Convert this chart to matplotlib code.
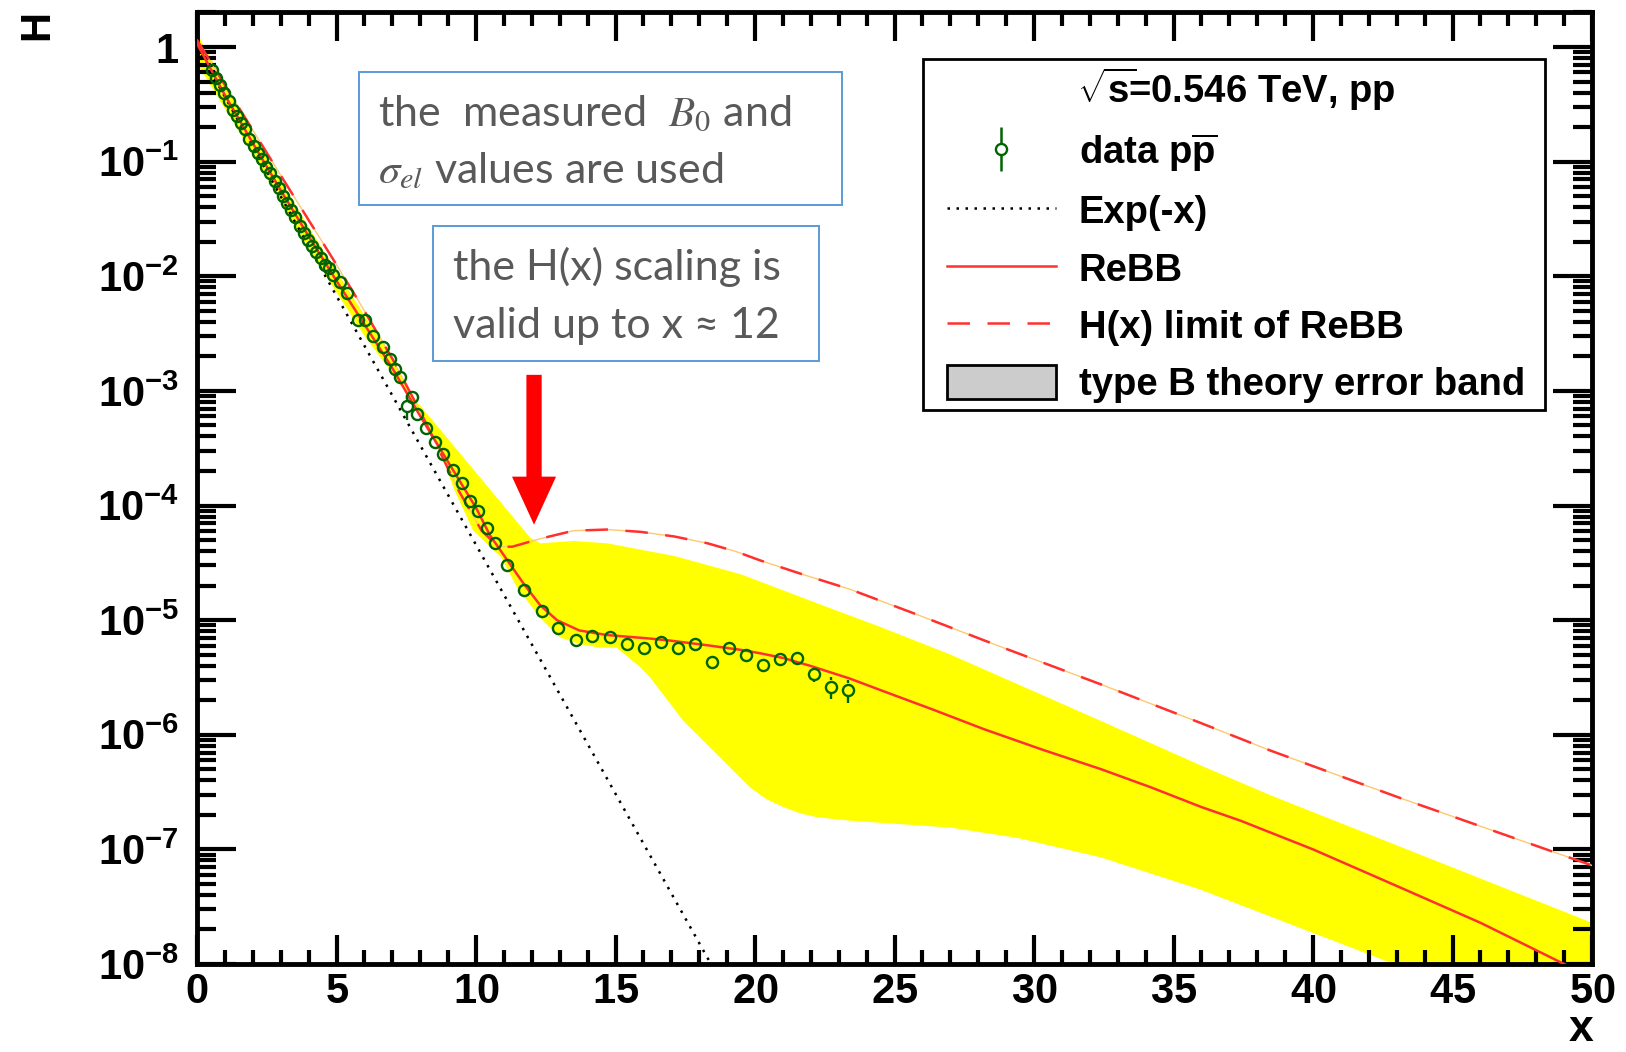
import numpy as np
import matplotlib
matplotlib.use('Agg')
import matplotlib.pyplot as plt
from matplotlib.lines import Line2D
from matplotlib.patches import Patch, Rectangle
from matplotlib.legend_handler import HandlerTuple
from matplotlib.ticker import (LogLocator, FixedLocator, FuncFormatter, MultipleLocator,
                               NullFormatter)

plt.rcParams['font.family'] = ['Liberation Sans', 'DejaVu Sans']
plt.rcParams['mathtext.fontset'] = 'custom'
plt.rcParams['mathtext.rm'] = 'Liberation Sans:bold'
plt.rcParams['mathtext.bf'] = 'Liberation Sans:bold'
plt.rcParams['mathtext.it'] = 'Liberation Sans:italic:bold'

# measured data (x, H) and relative errors
data_x = [0.53, 0.68, 0.83, 0.98, 1.13, 1.28, 1.43, 1.58, 1.73, 1.88,
          2.03, 2.18, 2.33, 2.48, 2.63, 2.78, 2.93, 3.08, 3.23, 3.38,
          3.53, 3.68, 3.83, 3.98, 4.13, 4.28, 4.43, 4.58, 4.73,
          4.89, 5.13, 5.37, 5.78, 6.02, 6.32, 6.68, 6.92, 7.10, 7.28,
          7.52, 7.69, 7.87, 8.21, 8.53, 8.83, 9.16, 9.49, 9.78, 10.08,
          10.38, 10.68,
          11.12, 11.73, 12.35, 12.95, 13.57, 14.17, 14.79, 15.40, 16.01, 16.62,
          17.23, 17.85, 18.46, 19.07, 19.68, 20.29, 20.90, 21.50, 22.11, 22.74,
          23.35]
data_h = [0.631, 0.537, 0.468, 0.398, 0.339, 0.282, 0.251, 0.219, 0.191, 0.158,
          0.138, 0.120, 0.105, 0.0891, 0.0794, 0.0676, 0.0589, 0.0501, 0.0437, 0.0380,
          0.0331, 0.0275, 0.0240, 0.0209, 0.0182, 0.0162, 0.0145, 0.0126, 0.0117,
          0.0102, 0.00891, 0.00708, 0.00417, 0.00417, 0.00302, 0.00240, 0.00191, 0.00155, 0.00132,
          0.000741, 0.000891, 0.000631, 0.000479, 0.000355, 0.000282, 0.000204, 0.000158, 0.000110, 8.91e-5,
          6.31e-5, 4.68e-5,
          3.02e-5, 1.82e-5, 1.20e-5, 8.51e-6, 6.76e-6, 7.24e-6, 7.08e-6, 6.17e-6, 5.75e-6, 6.46e-6,
          5.75e-6, 6.17e-6, 4.27e-6, 5.75e-6, 5.01e-6, 4.07e-6, 4.57e-6, 4.68e-6, 3.39e-6, 2.63e-6,
          2.45e-6]
data_rel_err = [0.03, 0.03, 0.03, 0.03, 0.03, 0.03, 0.03, 0.03, 0.03, 0.03,
                0.03, 0.03, 0.03, 0.03, 0.03, 0.03, 0.03, 0.03, 0.03, 0.03,
                0.03, 0.03, 0.03, 0.03, 0.03, 0.03, 0.03, 0.03, 0.03,
                0.04, 0.04, 0.04, 0.04, 0.04, 0.04, 0.04, 0.04, 0.04, 0.04,
                0.25, 0.04, 0.04, 0.04, 0.04, 0.04, 0.04, 0.04, 0.04, 0.04,
                0.04, 0.04,
                0.04, 0.04, 0.04, 0.04, 0.04, 0.04, 0.04, 0.04, 0.04, 0.04,
                0.04, 0.04, 0.12, 0.06, 0.06, 0.08, 0.08, 0.08, 0.15, 0.22,
                0.22]

# Exp(-x) reference line (straight on the log axis)
exp_x = [0.0, 18.42]
exp_h = [1.0, 1e-8]

# ReBB model
rebb_x = [0, 1, 2, 3, 4, 5, 6, 7, 8, 9, 10, 10.5, 11.1, 11.7, 12.3, 12.9, 13.7, 14.7,
          16.2, 17.0, 18.3, 19.5, 20.2, 21.0, 22.0, 23.4, 24.6, 26.4, 28.2, 30.3, 32.4,
          34.2, 36.0, 37.4, 40.0, 43.1, 46.0, 49.0, 50.0]
rebb_h = [1.07, 0.380, 0.145, 0.0562, 0.0224, 0.00912, 0.00380, 0.00158, 6.03e-4, 2.40e-4,
          9.55e-5, 5.50e-5, 3.39e-5, 2.09e-5, 1.35e-5, 1.00e-5, 8.13e-6, 7.41e-6,
          6.92e-6, 6.61e-6, 6.03e-6, 5.50e-6, 5.13e-6, 4.68e-6, 3.98e-6, 3.09e-6, 2.40e-6,
          1.65e-6, 1.12e-6, 7.41e-7, 5.01e-7, 3.47e-7, 2.34e-7, 1.78e-7, 1.00e-7, 4.68e-8,
          2.29e-8, 1.00e-8, 7.59e-9]

# H(x) limit of ReBB
lim_x = [0, 1.3, 3, 4.9, 5.8, 7, 8, 9.4, 10.2, 10.8, 11.3, 12.3, 13.5, 14.7, 15.9,
         17.1, 18.3, 19.3, 20.2, 21.7, 23.4, 25.8, 29.0, 32.4, 36.0, 38.5, 43.1, 50.0]
lim_h = [1.15, 0.355, 0.0759, 0.0138, 0.00603, 0.00191, 6.61e-4, 1.32e-4, 6.03e-5, 4.37e-5,
         4.37e-5, 5.13e-5, 6.03e-5, 6.17e-5, 5.89e-5, 5.37e-5, 4.68e-5, 3.98e-5, 3.31e-5,
         2.51e-5, 1.86e-5, 1.12e-5, 5.62e-6, 2.75e-6, 1.26e-6, 7.24e-7, 2.82e-7, 7.24e-8]

# theory error band edges
band_up_x = [0, 2, 4, 6, 7, 7.63, 11.94, 12.3, 13.5, 14.7, 17.1, 19.5, 22.2, 24.5,
             27.0, 32.4, 36.0, 38.5, 50.0]
band_up_h = [1.32, 0.174, 0.0269, 0.00457, 0.00191, 9.55e-4, 5.25e-5, 4.68e-5, 4.90e-5,
             4.68e-5, 3.63e-5, 2.51e-5, 1.41e-5, 8.71e-6, 5.01e-6, 1.32e-6, 5.37e-7,
             2.95e-7, 2.29e-8]
band_lo_x = [0, 2, 4, 6, 7.28, 8.71, 9.2, 9.9, 10.5, 10.9, 11.46, 12.29, 13.0, 13.73,
             14.44, 15.04, 15.88, 16.24, 17.43, 18.63, 19.82, 20.4, 21.01, 21.6, 22.21,
             23.4, 24.6, 27.0, 29.4, 32.4, 35.95, 42.9, 50.0]
band_lo_h = [0.724, 0.117, 0.0174, 0.00302, 0.00115, 3.02e-4, 1.41e-4, 6.03e-5, 4.37e-5,
             3.55e-5, 1.95e-5, 1.05e-5, 7.08e-6, 6.17e-6, 5.75e-6, 5.75e-6, 3.89e-6,
             3.16e-6, 1.32e-6, 6.76e-7, 3.47e-7, 2.75e-7, 2.34e-7, 2.07e-7, 1.91e-7,
             1.78e-7, 1.70e-7, 1.55e-7, 1.26e-7, 8.51e-8, 4.47e-8, 1.0e-8, 2.51e-9]

y_decades = [1e-8, 1e-7, 1e-6, 1e-5, 1e-4, 1e-3, 1e-2, 1e-1, 1]

arrow_x = 12.08
arrow_top = 1.38e-3
arrow_tip = 6.8e-5

green = '#006400'
red = '#ff3030'

fig = plt.figure(figsize=(16.26, 10.52), dpi=100)
ax = fig.add_axes([0.12116, 0.08365, 0.85793, 0.90494])
ax.set_yscale('log')
ax.set_xlim(0, 50)
ax.set_ylim(1e-8, 2.02)

band_xs = np.concatenate([band_up_x, band_lo_x[::-1]])
band_hs = np.concatenate([band_up_h, band_lo_h[::-1]])
ax.fill(band_xs, band_hs, color='#ffff00', lw=0, zorder=1)

ax.plot(exp_x, exp_h, color='black', lw=1.8, ls=(0, (1, 2.6)), zorder=2)
ax.plot(lim_x, lim_h, color='#ffc870', lw=1.0, zorder=3)
ax.plot(lim_x, lim_h, color=red, lw=1.8, ls=(0, (9, 7)), zorder=4)
ax.plot(rebb_x, rebb_h, color=red, lw=1.8, zorder=4)

# data: open circles, error bars only outside the marker (ROOT style)
ms = 8
mew = 1.7
xd = np.array(data_x)
hd = np.array(data_h)
ed = hd * np.array(data_rel_err)
r_px = (ms / 2 + mew / 2) * fig.dpi / 72
disp = ax.transData.transform(np.column_stack([xd, hd]))
inv = ax.transData.inverted()
edge_hi = inv.transform(disp + [0, r_px])[:, 1]
edge_lo = inv.transform(disp - [0, r_px])[:, 1]
up = hd + ed
dn = hd - ed
m_up = up > edge_hi
m_dn = dn < edge_lo
ax.vlines(xd[m_up], edge_hi[m_up], up[m_up], color=green, lw=mew, zorder=5)
ax.vlines(xd[m_dn], dn[m_dn], edge_lo[m_dn], color=green, lw=mew, zorder=5)
ax.plot(xd, hd, 'o', ls='none', mfc='none', mec=green, ms=ms, mew=mew, zorder=5)

ax.annotate('', xy=(arrow_x, arrow_tip), xytext=(arrow_x, arrow_top),
            arrowprops=dict(arrowstyle='simple,head_length=34.6,head_width=31.7,tail_width=11',
                            mutation_scale=1, color='red', lw=0, shrinkA=0, shrinkB=0),
            zorder=6)

ax.xaxis.set_major_locator(MultipleLocator(5))
ax.xaxis.set_minor_locator(MultipleLocator(1))
ax.xaxis.set_major_formatter(FuncFormatter(lambda v, pos: r'$%d$' % round(v)))
ax.yaxis.set_major_locator(FixedLocator(y_decades))
ax.yaxis.set_minor_locator(LogLocator(base=10, subs=np.arange(2, 10), numticks=20))
ax.yaxis.set_minor_formatter(NullFormatter())


def ylab(v, pos):
    e = int(round(np.log10(v)))
    return r'$1$' if e == 0 else r'$10^{%d}$' % e


ax.yaxis.set_major_formatter(FuncFormatter(ylab))

ax.tick_params(which='both', direction='in', top=True, right=True, width=3, colors='black')
ax.tick_params(axis='x', which='major', length=20.6, pad=6, labelsize=30)
ax.tick_params(axis='x', which='minor', length=10.3)
ax.tick_params(axis='y', which='major', length=28, pad=13, labelsize=30)
ax.tick_params(axis='y', which='minor', length=14)
for s in ax.spines.values():
    s.set_linewidth(3.5)

ax.text(-0.1147, 0.9864, 'H', rotation=90, transform=ax.transAxes, fontsize=30,
        fontweight='bold', ha='center', va='center')
ax.text(0.992, -0.0693, 'x', transform=ax.transAxes, fontsize=32,
        fontweight='bold', ha='center', va='center')

# annotation boxes
box_col = '#5b9bd5'
txt_col = '#595959'
ax.add_patch(Rectangle((0.116, 0.797), 0.3464, 0.140, transform=ax.transAxes,
                       facecolor='white', edgecolor=box_col, lw=1.4, zorder=7))
ax.add_patch(Rectangle((0.169, 0.633), 0.277, 0.142, transform=ax.transAxes,
                       facecolor='white', edgecolor=box_col, lw=1.4, zorder=7))
tkw = dict(transform=ax.transAxes, fontsize=31, color=txt_col, fontweight='normal',
           family=['Lato', 'DejaVu Sans'], math_fontfamily='stix', ha='left',
           va='baseline', zorder=8)
ax.text(0.130, 0.8797, r'the  measured  $B_0$ and', **tkw)
ax.text(0.130, 0.820, r'$\sigma_{el}$ values are used', **tkw)
ax.text(0.1835, 0.7185, 'the H(x) scaling is', **tkw)
ax.text(0.1835, 0.6576, 'valid up to x \u2248 12', **tkw)

# legend: frame drawn as its own box, entries placed inside it
ax.add_patch(Rectangle((0.5204, 0.5819), 0.4459, 0.3687, transform=ax.transAxes,
                       facecolor='white', edgecolor='black', lw=2, zorder=8))
leg_bar = Line2D([], [], marker='|', ms=32, mew=1.8, color=green, ls='none')
leg_circ = Line2D([], [], marker='o', ms=ms, mfc='white', mec=green, mew=mew, ls='none')
leg_exp = Line2D([], [], color='black', lw=1.8, ls=(0, (1, 2.6)))
leg_rebb = Line2D([], [], color=red, lw=1.8)
leg_lim = Line2D([], [], color=red, lw=1.8, ls=(0, (9, 7)))
leg_band = Patch(facecolor='#cccccc', edgecolor='black', lw=2)
leg = ax.legend([(leg_bar, leg_circ), leg_exp, leg_rebb, leg_lim, leg_band],
                [r'data p$\overline{\rm p}$', 'Exp(-x)', 'ReBB', 'H(x) limit of ReBB',
                 'type B theory error band'],
                handler_map={tuple: HandlerTuple(ndivide=1)},
                title=r'$\sqrt{\rm s}\!$=0.546 TeV, pp',
                loc='upper left', bbox_to_anchor=(0.5375, 0.944), borderaxespad=0,
                prop={'size': 27.5, 'weight': 'bold'},
                title_fontproperties={'size': 27.5, 'weight': 'bold'},
                frameon=False, borderpad=0, handlelength=2.85, handletextpad=0.6,
                labelspacing=0.5, handleheight=1.0)
leg.set_zorder(9)

fig.savefig('out.png', dpi=100)
